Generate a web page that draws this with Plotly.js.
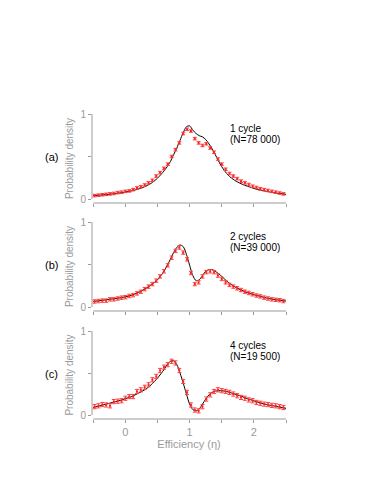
<!DOCTYPE html>
<html>
<head>
<meta charset="utf-8">
<script src="https://cdn.plot.ly/plotly-3.0.1.min.js"></script>
<style>
  html, body { margin: 0; padding: 0; background: #fff; }
  #chart { width: 383px; height: 496px; }
</style>
</head>
<body>
<div id="chart"></div>
<script>
// Histogram bin centres (measured points)
const binX = [-0.48, -0.42, -0.36, -0.30, -0.24, -0.18, -0.12, -0.06, 0.00, 0.06,
              0.12, 0.18, 0.24, 0.30, 0.36, 0.42, 0.48, 0.54, 0.60, 0.66,
              0.72, 0.78, 0.84, 0.90, 0.96, 1.02, 1.08, 1.14, 1.20, 1.26,
              1.32, 1.38, 1.44, 1.50, 1.56, 1.62, 1.68, 1.74, 1.80, 1.86,
              1.92, 1.98, 2.04, 2.10, 2.16, 2.22, 2.28, 2.34, 2.40, 2.46];

const pointsA = [0.04, 0.045, 0.05, 0.055, 0.06, 0.065, 0.075, 0.08, 0.09, 0.095,
                 0.11, 0.13, 0.145, 0.165, 0.19, 0.22, 0.27, 0.31, 0.36, 0.41,
                 0.50, 0.58, 0.66, 0.77, 0.82, 0.80, 0.71, 0.66, 0.63, 0.65,
                 0.60, 0.55, 0.47, 0.41, 0.35, 0.30, 0.27, 0.24, 0.21, 0.19,
                 0.17, 0.15, 0.135, 0.12, 0.11, 0.10, 0.09, 0.08, 0.07, 0.06];

const pointsB = [0.065, 0.07, 0.075, 0.075, 0.09, 0.09, 0.10, 0.11, 0.115, 0.13,
                 0.14, 0.16, 0.18, 0.21, 0.24, 0.27, 0.31, 0.36, 0.42, 0.49,
                 0.58, 0.66, 0.70, 0.64, 0.56, 0.40, 0.27, 0.29, 0.36, 0.41,
                 0.42, 0.41, 0.37, 0.33, 0.29, 0.26, 0.24, 0.22, 0.20, 0.18,
                 0.165, 0.15, 0.135, 0.125, 0.11, 0.10, 0.09, 0.085, 0.08, 0.07];

const pointsC = [0.10, 0.11, 0.125, 0.12, 0.11, 0.16, 0.165, 0.17, 0.20, 0.22,
                 0.22, 0.28, 0.30, 0.33, 0.36, 0.42, 0.46, 0.53, 0.57, 0.60,
                 0.64, 0.62, 0.53, 0.40, 0.27, 0.12, 0.06, 0.05, 0.10, 0.19,
                 0.24, 0.28, 0.30, 0.29, 0.28, 0.27, 0.25, 0.23, 0.21, 0.20,
                 0.18, 0.17, 0.15, 0.14, 0.13, 0.125, 0.115, 0.11, 0.10, 0.09];

const errA = 0.015, errB = 0.02, errC = 0.025;

// Theory curves
const curveX = [-0.5, -0.4, -0.3, -0.2, -0.1, 0.0, 0.1, 0.2, 0.3, 0.4,
                0.5, 0.6, 0.65, 0.7, 0.75, 0.8, 0.85, 0.9, 0.95, 1.0,
                1.05, 1.1, 1.15, 1.2, 1.25, 1.3, 1.35, 1.4, 1.5, 1.6,
                1.7, 1.8, 1.9, 2.0, 2.1, 2.2, 2.3, 2.4, 2.5];

const curveA = [0.04, 0.045, 0.052, 0.06, 0.07, 0.082, 0.097, 0.117, 0.145, 0.185,
                0.245, 0.33, 0.38, 0.44, 0.52, 0.60, 0.69, 0.78, 0.85, 0.86,
                0.81, 0.77, 0.745, 0.73, 0.70, 0.65, 0.59, 0.52, 0.38, 0.28,
                0.22, 0.18, 0.15, 0.125, 0.105, 0.09, 0.075, 0.065, 0.055];

const curveB = [0.065, 0.075, 0.085, 0.095, 0.105, 0.12, 0.14, 0.17, 0.21, 0.26,
                0.32, 0.42, 0.49, 0.56, 0.64, 0.70, 0.73, 0.71, 0.62, 0.49,
                0.37, 0.31, 0.32, 0.37, 0.42, 0.44, 0.44, 0.42, 0.36, 0.29,
                0.24, 0.20, 0.17, 0.145, 0.125, 0.105, 0.09, 0.08, 0.07];

const curveC = [0.09, 0.11, 0.13, 0.15, 0.17, 0.195, 0.22, 0.26, 0.30, 0.36,
                0.44, 0.54, 0.60, 0.64, 0.645, 0.60, 0.50, 0.38, 0.25, 0.13,
                0.065, 0.05, 0.075, 0.13, 0.19, 0.24, 0.27, 0.285, 0.29, 0.275,
                0.25, 0.225, 0.195, 0.17, 0.145, 0.125, 0.11, 0.095, 0.08];

const panelLabels = ['(a)', '(b)', '(c)'];
const cycleLabels = ['1 cycle', '2 cycles', '4 cycles'];
const countLabels = ['(N=78 000)', '(N=39 000)', '(N=19 500)'];

const xTickVals = [-0.5, 0, 0.5, 1, 1.5, 2, 2.5];
const xTickText = ['', '0', '', '1', '', '2', ''];

const grey = '#9a9a9a';
const font = 'Liberation Sans, Arial, sans-serif';

// panel geometry in pixels (top of y=1, bottom axis line)
const W = 383, H = 496;
const panelsPx = [[114, 203], [222, 311], [331, 419]];

const pointsAll = [pointsA, pointsB, pointsC];
const curvesAll = [curveA, curveB, curveC];
const errAll = [errA, errB, errC];

const traces = [];
const layout = {
    width: W,
    height: H,
    margin: { l: 0, r: 0, t: 0, b: 0 },
    paper_bgcolor: '#fff',
    plot_bgcolor: 'rgba(0,0,0,0)',
    showlegend: false,
    font: { family: font, size: 10, color: '#000' },
    annotations: [],
    shapes: []
};

for (let i = 0; i < 3; i++) {
    const n = i === 0 ? '' : String(i + 1);
    const xa = 'x' + n, ya = 'y' + n;

    traces.push({
        x: curveX, y: curvesAll[i],
        xaxis: xa, yaxis: ya,
        type: 'scatter', mode: 'lines',
        line: { color: '#000', width: 1, shape: 'spline', smoothing: 0.8 },
        hoverinfo: 'skip'
    });
    traces.push({
        x: binX, y: pointsAll[i],
        xaxis: xa, yaxis: ya,
        type: 'scatter', mode: 'markers',
        marker: { color: '#ff2020', size: 2, symbol: 'square' },
        error_y: { type: 'constant', value: errAll[i], color: '#ff4040', thickness: 1, width: 2 }
    });

    const top = panelsPx[i][0], bottom = panelsPx[i][1];
    const last = i === 2;

    layout['xaxis' + n] = {
        domain: [92 / W, 286 / W],
        range: [-0.52, 2.5],
        anchor: ya,
        showgrid: false, zeroline: false, showline: false,
        ticks: 'outside', ticklen: 3, tickcolor: grey, tickwidth: 1,
        tickvals: xTickVals, ticktext: xTickText,
        showticklabels: last,
        tickfont: { family: font, size: 11, color: grey },
        title: last ? { text: 'Efficiency (η)', font: { family: font, size: 11, color: grey }, standoff: 2 } : undefined
    };
    layout['yaxis' + n] = {
        domain: [1 - bottom / H, 1 - top / H],
        range: [-0.047, 1],
        anchor: xa,
        showgrid: false, zeroline: false, showline: false,
        ticks: 'outside', ticklen: 3, tickcolor: grey, tickwidth: 1,
        tickvals: [0, 0.5, 1], ticktext: ['0', '', '1'],
        tickfont: { family: font, size: 10, color: grey },
        title: { text: 'Probability density', font: { family: font, size: 10, color: grey }, standoff: 4 }
    };

    // axis lines: y from 0 to 1, x from -0.5 to 2.5
    layout.shapes.push({
        type: 'line', xref: xa + ' domain', yref: ya,
        x0: 0, x1: 0, y0: 0, y1: 1,
        line: { color: grey, width: 1 }
    });
    layout.shapes.push({
        type: 'line', xref: xa, yref: ya + ' domain',
        x0: -0.5, x1: 2.5, y0: 0, y1: 0,
        line: { color: grey, width: 1 }
    });

    layout.annotations.push({
        text: panelLabels[i], xref: 'paper', yref: 'paper',
        x: 51 / W, y: 1 - (top + 43) / H,
        xanchor: 'center', yanchor: 'middle', showarrow: false,
        font: { family: font, size: 11, color: '#000' }
    });
    layout.annotations.push({
        text: cycleLabels[i], xref: 'paper', yref: 'paper',
        x: 228 / W, y: 1 - (top + 14) / H,
        xanchor: 'left', yanchor: 'middle', showarrow: false,
        font: { family: font, size: 10, color: '#000' }
    });
    layout.annotations.push({
        text: countLabels[i], xref: 'paper', yref: 'paper',
        x: 228 / W, y: 1 - (top + 25) / H,
        xanchor: 'left', yanchor: 'middle', showarrow: false,
        font: { family: font, size: 10, color: '#000' }
    });
}

Plotly.newPlot('chart', traces, layout, { staticPlot: true, displayModeBar: false });
</script>
</body>
</html>
